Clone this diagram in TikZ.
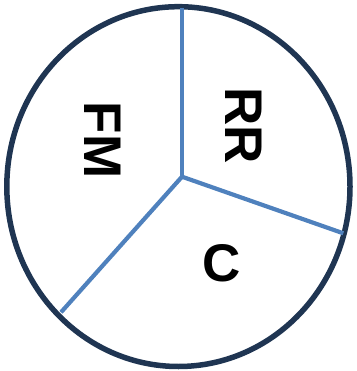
\documentclass[tikz,border=0pt]{standalone}
\usepackage{fontspec}
\setmainfont{Liberation Sans}
\usetikzlibrary{positioning}
\definecolor{rimnavy}{HTML}{1F3552}
\definecolor{spokeblue}{HTML}{4F81BD}
\tikzset{
  rim/.style={draw=rimnavy,line width=5.5pt},
  spoke/.style={draw=spokeblue,line width=4.2pt},
  slice/.style={font=\fontsize{53}{60}\selectfont\bfseries,inner sep=0pt}
}

\begin{document}
\begin{tikzpicture}[x=1pt,y=-1pt]
  \useasboundingbox (0,0) rectangle (356,371);
  \draw[rim] (178.4,186.6) ellipse [x radius=171.6pt,y radius=179.9pt];
  \coordinate (ctr) at (182,176.7);
  \coordinate (top) at (182,8);
  \coordinate (rgt) at (343.3,233.3);
  \coordinate (lft) at (61,312.3);
  \draw[spoke] (ctr) -- (top);
  \draw[spoke] (ctr) -- (rgt);
  \draw[spoke] (ctr) -- (lft);
  \node[slice,rotate=-90] (fm) at (102.5,140) {FM};
  \node[slice,rotate=-90] (rr) at (244,126) {RR};
  \node[slice] (c) at (221.5,263) {C};
\end{tikzpicture}
\end{document}
